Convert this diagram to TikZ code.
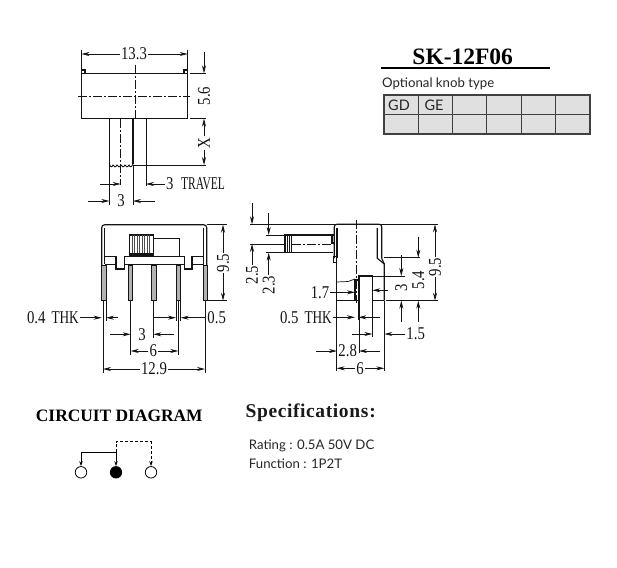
\documentclass[tikz,border=0pt]{standalone}
\usepackage{fontspec}
\setmainfont{Liberation Serif}
\newfontfamily\dimf[FakeStretch=0.82]{Liberation Serif}
\newfontfamily\labf{Lato}
\usetikzlibrary{arrows.meta}
\definecolor{ink}{HTML}{141414}
\definecolor{cellgray}{HTML}{E0E0E0}
\tikzset{
  outline/.style={draw=ink,line width=1.15pt},
  thinline/.style={draw=ink,line width=0.7pt},
  centerline/.style={draw=ink,line width=0.7pt,dash pattern=on 9pt off 2pt on 2pt off 2pt},
  arr/.style={draw=ink,line width=0.7pt,-{Stealth[length=8pt,width=4pt]}},
  dimtext/.style={inner sep=1pt,text=ink,font=\dimf\fontsize{18}{18}\selectfont,fill=white},
  dimrot/.style={dimtext,rotate=90},
  pinbody/.style={draw=ink,line width=1pt,fill=gray!60},
  tablecell/.style={draw=black!75,line width=1.3pt,fill=cellgray},
  captxt/.style={inner sep=0pt,text=black!85,font=\labf\fontsize{13.2}{15}\selectfont,anchor=west},
  celltxt/.style={inner sep=0pt,text=black!85,font=\labf\fontsize{14.5}{15}\selectfont},
  termopen/.style={circle,draw=black,line width=0.8pt,minimum size=11.5pt,inner sep=0pt,fill=white},
  termfull/.style={termopen,fill=black},
  wire/.style={draw=black,line width=0.9pt,-{Stealth[length=5pt,width=3.5pt]}},
  wiredash/.style={wire,dash pattern=on 3pt off 2pt}
}
\begin{document}
\begin{tikzpicture}[x=1pt,y=-1pt]
\useasboundingbox (0,0) rectangle (617,567);
%%% TOP VIEW
\draw[outline] (81.5,73.3) rectangle (187.7,118.7);
\draw[outline] (81.5,73.3) -- (81.5,70) -- (85,70) -- (85,73.3);
\draw[outline] (187.7,73.3) -- (187.7,70) -- (184,70) -- (184,73.3);
\draw[outline] (109.3,118.7) -- (109.3,164);
\draw[outline] (133,118.7) -- (133,164);
\draw[outline,line width=0.9pt] (109.3,164) .. controls (110.5,167.5) and (112,167.5) .. (113,165)
  .. controls (114,167.5) and (115.5,167.5) .. (117,165) .. controls (118,167.5) and (119.5,167.5) .. (121,165)
  .. controls (122,167.5) and (123.5,167.5) .. (125,165) .. controls (126,167.5) and (127.5,167.5) .. (129,165)
  .. controls (130,167.5) and (131.5,167.5) .. (133,164);
\draw[centerline] (78,96) -- (190,96);
\draw[centerline] (135,65) -- (135,118);
\draw[centerline] (120.7,119) -- (120.7,185);
% extension lines
\draw[thinline] (81.5,50) -- (81.5,70) (187.7,50) -- (187.7,70);
\draw[thinline] (190,73.3) -- (206,73.3) (190,118.7) -- (206,118.7) (133,165) -- (206,165);
\draw[thinline] (146,119) -- (146,186) (109.3,165) -- (109.3,205) (133,165) -- (133,205);
\node[dimtext] (d133) at (134,54) {13.3};
\draw[arr] (d133.west) -- (81.5,54);
\draw[arr] (d133.east) -- (187.7,54);
\coordinate (c56) at (204,52);
\draw[arr] (c56) -- (204,73.3);
\node[dimrot] (d56) at (204,96) {5.6};
\node[dimrot] (dX) at (204,143) {X};
\draw[arr] (dX.east) -- (204,118.7);
\draw[arr] (dX.west) -- (204,165);
\node[dimtext,anchor=west] (dtr) at (165,184) {3\hspace{7.5pt}\scalebox{0.78}[1]{TRAVEL}};
\draw[arr] (dtr.west) -- (146,184);
\draw[arr] (100,184) -- (120.7,184);
\node[dimtext] (d3a) at (121,201) {3};
\draw[arr] (88,201) -- (109.3,201);
\draw[arr] (155,201) -- (133,201);
%%% FRONT VIEW
\draw[outline,rounded corners=3pt] (101.7,265) -- (101.7,224.7) -- (206.7,224.7) -- (206.7,265);
\draw[outline] (104.7,228) -- (104.7,264.3) (203.7,228) -- (203.7,264.3);
\draw[outline] (104.7,256.7) -- (116,256.7) -- (116,269) -- (124.3,269) -- (124.3,256.7) -- (184.3,256.7) -- (184.3,269) -- (192,269) -- (192,256.7) -- (203.7,256.7);
\draw[outline] (104.7,264.3) -- (116,264.3) (124.3,264.3) -- (184.3,264.3) (192,264.3) -- (203.7,264.3);
\draw[outline] (129.3,235) rectangle (153.3,256);
\foreach \hx in {132,134.5,137,139.5,142,144.5,147,149.5}
  \draw[thinline,draw=black!70] (\hx,235) -- (\hx,254);
\draw[outline] (129.3,254) -- (153.3,254);
\draw[outline] (153.3,238.3) -- (179.3,238.3) -- (179.3,256.7);
\draw[pinbody] (101.7,265) rectangle (106,300.7);
\draw[pinbody] (128.7,265) rectangle (132.7,300.7);
\draw[pinbody] (151.7,265) rectangle (156.3,300.7);
\draw[pinbody] (176,265) rectangle (180.7,300.7);
\draw[pinbody] (203.3,265) rectangle (207.3,300.7);
% extension lines
\draw[thinline] (207,224.7) -- (227,224.7) (207,300.7) -- (227,300.7);
\draw[thinline] (103,301) -- (103,373) (205,301) -- (205,373);
\draw[thinline] (106,301) -- (106,321) (176,301) -- (176,321) (180.7,301) -- (180.7,321);
\draw[thinline] (130.7,301) -- (130.7,355) (153.3,301) -- (153.3,338) (178.3,301) -- (178.3,355);
\node[dimrot] (d95a) at (223,263) {9.5};
\draw[arr] (d95a.east) -- (223,224.7);
\draw[arr] (d95a.west) -- (223,300.7);
\node[dimtext,anchor=east] (dthk) at (80,317.7) {0.4\hspace{6pt}\scalebox{0.9}[1]{THK}};
\draw[arr] (dthk.east) -- (101.7,317.7);
\draw[arr] (118,317.7) -- (106,317.7);
\node[dimtext] (d05a) at (216.7,317.7) {0.5};
\draw[arr] (154,317.7) -- (176,317.7);
\draw[arr] (d05a.west) -- (180.7,317.7);
\node[dimtext] (d3b) at (142,334.3) {3};
\draw[arr] (110,334.3) -- (130.7,334.3);
\draw[arr] (174,334.3) -- (153.3,334.3);
\node[dimtext] (d6a) at (153.3,351) {6};
\draw[arr] (d6a.west) -- (130.7,351);
\draw[arr] (d6a.east) -- (178.3,351);
\node[dimtext] (d129) at (154,369) {12.9};
\draw[arr] (d129.west) -- (103,369);
\draw[arr] (d129.east) -- (205,369);
%%% SIDE VIEW
\draw[thinline] (250,224.3) -- (438,224.3);
\draw[outline,rounded corners=2.5pt] (334.3,258) -- (334.3,224.3) -- (381.7,224.3) -- (381.7,258.5);
\draw[outline] (337,228) -- (337,258);
\draw[outline] (377.3,228) -- (377.3,258.3) -- (384.3,264) -- (384.3,300.7);
\draw[outline] (381.7,258.5) -- (384.3,264);
\draw[outline] (333.3,256.7) rectangle (336.7,262.3);
\draw[outline] (336.7,262.3) -- (336.7,300.7);
\draw[outline] (332,235) rectangle (334.3,243);
\draw[outline] (336.7,300.7) -- (355,300.7) (372.3,300.7) -- (384.3,300.7);
\draw[outline] (359,300.7) -- (359,276) -- (372.3,276) -- (372.3,300.7);
\draw[outline] (355,280) rectangle (358.3,300.7);
\draw[thinline] (336.7,282) -- (348,281.5) -- (355,279);
% shaft
\draw[outline] (332.7,235) -- (285,235) -- (285,252.7) -- (332.7,252.7);
\draw[outline,line width=0.8pt] (287.2,235) -- (287.2,252.7) (289.2,235) -- (289.2,252.7) (291,235) -- (291,252.7);
\draw[centerline] (292,244) -- (333,244);
\draw[thinline] (250,244) -- (285,244);
\draw[centerline] (356,220) -- (356,303);
% extension lines
\draw[thinline] (266,235) -- (285,235) (266,252.7) -- (285,252.7);
\draw[thinline] (384,257.7) -- (420,257.7) (372,276) -- (405,276) (386,300.7) -- (438,300.7);
\draw[thinline] (336.7,301) -- (336.7,371) (384.3,301) -- (384.3,371);
\draw[thinline] (359,301) -- (359,353) (372.3,301) -- (372.3,337) (358,301) -- (358,320);
% dimensions
\coordinate (c25) at (252,203);
\draw[arr] (c25) -- (252,224.3);
\node[dimrot] (d25) at (252,275) {2.5};
\draw[arr] (d25.east) -- (252,244);
\coordinate (c23) at (268.7,213);
\draw[arr] (c23) -- (268.7,235);
\node[dimrot] (d23) at (268.7,285) {2.3};
\draw[arr] (d23.east) -- (268.7,252.7);
\node[dimtext] (d17) at (320,292.3) {1.7};
\draw[arr] (d17.east) -- (355,292.3);
\node[dimrot] (d3c) at (401.3,288) {3};
\draw[arr] (401.3,255) -- (401.3,276);
\draw[arr] (401.3,321.7) -- (401.3,300.7);
\draw[arr] (388,290.3) -- (372.3,290.3);
\node[dimrot] (d54) at (418.3,280) {5.4};
\draw[arr] (418.3,236.7) -- (418.3,257.7);
\draw[arr] (418.3,321.7) -- (418.3,300.7);
\node[dimrot] (d95b) at (435,267) {9.5};
\draw[arr] (d95b.east) -- (435,224.3);
\draw[arr] (d95b.west) -- (435,300.7);
\node[dimtext,anchor=east] (dthkb) at (333,317.3) {0.5\hspace{6pt}\scalebox{0.9}[1]{THK}};
\draw[arr] (dthkb.east) -- (355,317.3);
\draw[arr] (380,317.3) -- (358.3,317.3);
\node[dimtext] (d15) at (415.7,334) {1.5};
\draw[arr] (351.7,334) -- (372.3,334);
\draw[arr] (d15.west) -- (384.3,334);
\node[dimtext] (d28) at (347.7,351) {2.8};
\draw[arr] (316,351) -- (337,351);
\draw[arr] (380,351) -- (359,351);
\node[dimtext] (d6b) at (360,368.3) {6};
\draw[arr] (d6b.west) -- (336.7,368.3);
\draw[arr] (d6b.east) -- (384.3,368.3);
%%% TITLE AND KNOB TABLE
\node[inner sep=0pt,font=\bfseries\fontsize{23.5}{24}\selectfont] (title) at (462.7,56.5) {SK-12F06};
\coordinate (ruleL) at (381,67.7);
\coordinate (ruleR) at (550,67.7);
\draw[black,line width=1.7pt] (ruleL) -- (ruleR);
\node[captxt] (opt) at (382,84) {Optional knob type};
\draw[tablecell] (384,95) rectangle (590,134);
\draw[draw=black!75,line width=0.9pt] (384,114.3) -- (590,114.3);
\foreach \cx in {418.3,452.3,486.7,521,555.3}
  \draw[draw=black!75,line width=0.9pt] (\cx,95) -- (\cx,134);
\node[celltxt] (gd) at (399,105) {GD};
\node[celltxt] (ge) at (434,105) {GE};
%%% CIRCUIT
\node[inner sep=0pt,font=\bfseries\fontsize{17.4}{18}\selectfont] (cd) at (119.3,416) {CIRCUIT DIAGRAM};
\node[termopen] (t1) at (81,472.3) {};
\node[termfull] (t2) at (116,472.3) {};
\node[termopen] (t3) at (151,472.3) {};
\coordinate (j1) at (116,452.3);
\coordinate (j2) at (116,441.7);
\coordinate (j3) at (151,441.7);
\coordinate (j4) at (81,452.3);
\draw[wire] (j1) -- (j4) -- (t1);
\draw[wire] (j1) -- (t2);
\draw[wiredash] (j1) -- (j2) -- (j3) -- (t3);
%%% SPECIFICATIONS
\node[inner sep=0pt,anchor=west,font=\bfseries\fontsize{19.5}{20}\selectfont,text=black!90] (spec) at (245.5,413) {S\hspace{.6pt}p\hspace{.6pt}e\hspace{.6pt}c\hspace{.6pt}i\hspace{.6pt}f\hspace{.6pt}i\hspace{.6pt}c\hspace{.6pt}a\hspace{.6pt}t\hspace{.6pt}i\hspace{.6pt}o\hspace{.6pt}n\hspace{.6pt}s\hspace{1pt}:};
\node[captxt] (rat) at (248.7,445.7) {Rating : 0.5A 50V DC};
\node[captxt] (fun) at (248.7,463.3) {Function : 1P2T};
\end{tikzpicture}
\end{document}
